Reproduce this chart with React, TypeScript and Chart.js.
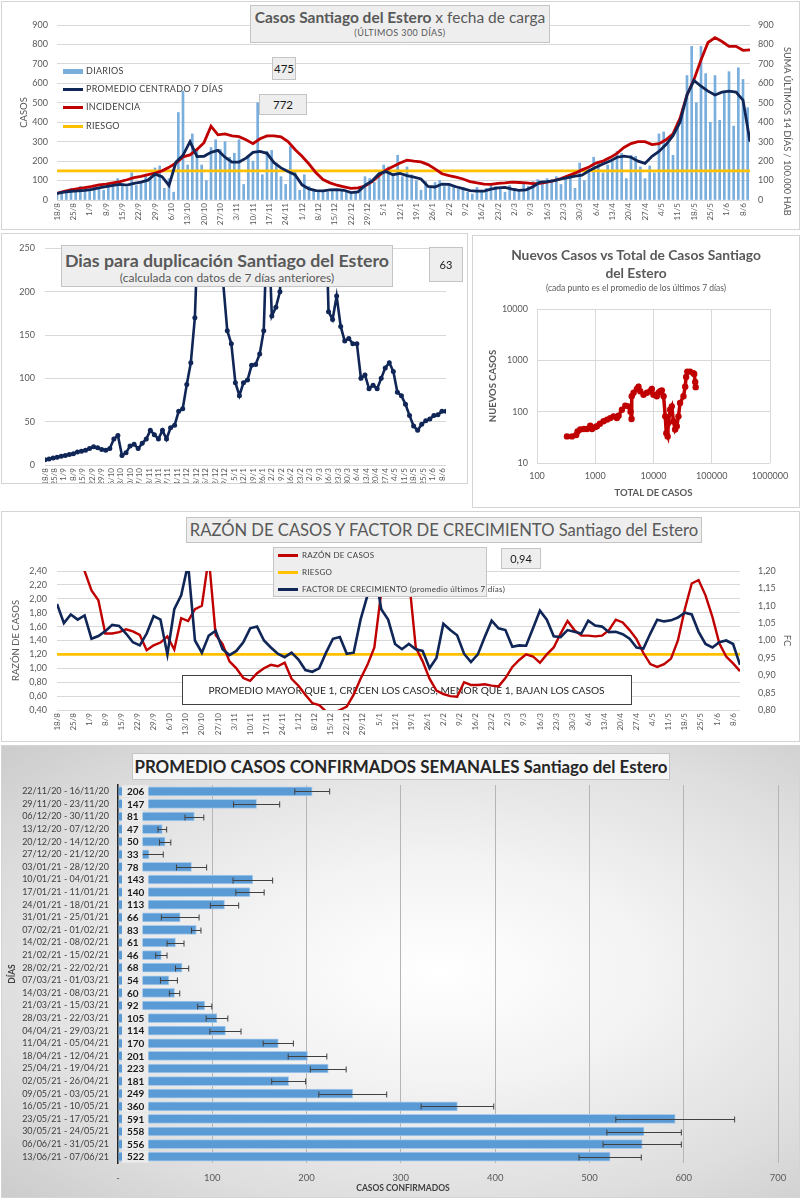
import React, { useEffect, useRef } from 'react';
import { Chart, registerables } from 'chart.js';

Chart.register(...registerables);

const FONT = 'Lato, "Open Sans", "DejaVu Sans", sans-serif';
const NAVY = '#0f2657';
const RED = '#c00000';
const ORANGE = '#ffc000';
const BAR_BLUE = '#7aaedd';
const GRID = '#d9d9d9';
const TICK = '#595959';

// ---------------- DATA ----------------
const weekLabels = ['18/8', '25/8', '1/9', '8/9', '15/9', '22/9', '29/9', '6/10', '13/10', '20/10', '27/10', '3/11', '10/11', '17/11', '24/11', '1/12', '8/12', '15/12', '22/12', '29/12', '5/1', '12/1', '19/1', '26/1', '2/2', '9/2', '16/2', '23/2', '2/3', '9/3', '16/3', '23/3', '30/3', '6/4', '13/4', '20/4', '27/4', '4/5', '11/5', '18/5', '25/5', '1/6', '8/6'];
const DAYS_PER_WEEK = 7;
const DAY_STEP_BARS = 2;
const DAY_STEP_LINES = 3;
const X_MAX_DAY = 297;

// daily cases (every 2nd day)
const diarios = [
  28, 45, 35, 60, 50, 70, 45, 55, 65, 60,
  50, 80, 70, 110, 85, 65, 140, 75, 90, 130,
  110, 165, 175, 60, 110, 40, 450, 560, 180, 340,
  260, 180, 100, 270, 310, 260, 300, 220, 240, 310,
  80, 220, 200, 500, 130, 250, 255, 190, 120, 80,
  275, 150, 50, 130, 70, 55, 45, 50, 40, 55,
  50, 45, 40, 30, 45, 60, 120, 110, 90, 130,
  180, 170, 125, 230, 120, 170, 130, 100, 50, 95,
  60, 90, 100, 70, 85, 75, 55, 65, 40, 30,
  65, 50, 60, 80, 70, 55, 40, 75, 60, 45,
  80, 70, 95, 105, 90, 110, 100, 120, 80, 115,
  130, 60, 190, 100, 160, 220, 200, 140, 180, 210,
  250, 240, 110, 230, 225, 170, 110, 175, 140, 340,
  350, 300, 230, 400, 470, 640, 790, 500, 790, 650,
  400, 640, 410, 560, 660, 380, 680, 620, 475,
];
// 7-day centred average (every 3rd day)
const promedio = [
  34, 40, 45, 47, 50, 55, 62, 69, 75, 80,
  77, 85, 92, 102, 133, 120, 75, 195, 230, 300,
  223, 225, 245, 255, 220, 195, 195, 215, 245, 250,
  240, 192, 165, 146, 130, 78, 57, 48, 47, 52,
  53, 50, 38, 42, 75, 98, 135, 146, 130, 137,
  125, 118, 108, 70, 67, 82, 80, 68, 58, 48,
  46, 46, 56, 62, 65, 56, 50, 52, 68, 92,
  95, 100, 108, 115, 123, 128, 150, 168, 185, 200,
  220, 226, 220, 200, 188, 225, 250, 285, 330, 400,
  540, 615, 585, 560, 540, 555, 560, 555, 514, 300,
];
// 14-day incidence per 100.000 (every 3rd day)
const incidencia = [
  34, 45, 52, 58, 64, 70, 78, 82, 88, 94,
  104, 115, 122, 130, 138, 150, 168, 190, 222, 232,
  260, 295, 380, 335, 340, 330, 326, 310, 290, 315,
  330, 330, 325, 300, 260, 225, 185, 140, 105, 88,
  76, 68, 60, 62, 72, 95, 125, 155, 172, 190,
  205, 200, 196, 182, 160, 135, 125, 118, 108, 95,
  88, 82, 80, 85, 88, 92, 90, 88, 84, 85,
  92, 100, 110, 125, 138, 155, 170, 190, 200, 218,
  240, 270, 290, 300, 300, 285, 290, 310, 340, 420,
  540, 620, 720, 810, 835, 815, 790, 790, 770, 772,
];
const RIESGO_INCIDENCIA = 150;
const ULTIMO_DIARIO = '475';
const ULTIMA_INCIDENCIA = '772';

// doubling days (every 3rd day)
const duplicacion = [
  6, 7, 8, 9, 10, 11, 12, 13, 15, 16,
  17, 19, 21, 20, 18, 17, 19, 30, 34, 11,
  14, 22, 24, 19, 25, 30, 40, 35, 30, 40,
  30, 43, 46, 62, 65, 93, 118, 170, 300, 400,
  500, 600, 500, 350, 210, 155, 140, 95, 80, 95,
  98, 115, 116, 128, 155, 300, 172, 182, 200, 320,
  400, 500, 650, 800, 900, 1000, 900, 700, 500, 350,
  177, 168, 195, 160, 143, 146, 140, 140, 100, 104,
  88, 92, 88, 100, 112, 118, 108, 84, 80, 70,
  57, 45, 40, 47, 51, 53, 57, 58, 62, 62,
];
const ULTIMA_DUPLICACION = '63';

// new cases vs total cases (log-log)
const totalCasos = [327, 398, 471, 497, 553, 640, 721, 820, 880, 1000, 1067, 1200, 1389, 1600, 1807, 2064, 2353, 2517, 2870, 3283, 3720, 4040, 4200, 4230, 4550, 5180, 5540, 5920, 6750, 7700, 8780, 9350, 10000, 11400, 12200, 13000, 13900, 14900, 15900, 16600, 17500, 18000, 19300, 20600, 22000, 23500, 25100, 26800, 28600, 32700, 35000, 36300, 38000, 42500, 48400, 50000, 52000, 53000];
const nuevosCasos = [33, 33, 35, 41, 45, 46, 46, 53, 46, 50, 52, 58, 65, 70, 75, 81, 75, 83, 109, 131, 127, 100, 72, 200, 233, 276, 306, 250, 214, 233, 250, 276, 214, 200, 233, 250, 260, 200, 81, 38, 33, 60, 109, 127, 65, 45, 52, 81, 148, 200, 306, 476, 603, 603, 560, 540, 380, 300];
const logTicksX = [100, 1000, 10000, 100000, 1000000];
const logTicksY = [10, 100, 1000, 10000];

// case ratio and growth factor (every 3rd day)
const razonCasos = [
  3.2, 3.0, 2.8, 2.6, 2.4, 2.12, 1.98, 1.5, 1.5, 1.52,
  1.56, 1.53, 1.48, 1.26, 1.33, 1.37, 1.46, 1.27, 1.72, 1.68,
  1.85, 1.9, 2.6, 1.48, 1.35, 1.1, 1.0, 0.86, 0.82, 0.93,
  1.0, 1.05, 1.03, 1.08, 0.85, 0.75, 0.62, 0.5, 0.47, 0.38,
  0.35, 0.4, 0.45, 0.62, 0.85, 1.05, 1.3, 2.1, 2.8, 3.0,
  2.8, 2.3, 1.3, 1.1, 0.85, 0.68, 0.63, 0.6, 0.59, 0.8,
  0.76, 0.76, 0.77, 0.75, 0.74, 0.86, 1.02, 1.12, 1.2, 1.17,
  1.08, 1.2, 1.3, 1.5, 1.68, 1.55, 1.47, 1.47, 1.46, 1.47,
  1.55, 1.7, 1.66, 1.55, 1.42, 1.22, 1.06, 1.02, 1.06, 1.14,
  1.4, 1.85, 2.22, 2.27, 2.05, 1.74, 1.36, 1.17, 1.07, 0.96,
];
const factorCrecimiento = [
  1.105, 1.05, 1.075, 1.06, 1.072, 1.005, 1.013, 1.027, 1.045, 1.042,
  1.02, 0.995, 0.986, 1.02, 1.07, 1.06, 0.96, 1.09, 1.13, 1.22,
  1.0, 0.965, 1.014, 1.028, 0.975, 0.958, 0.97, 0.995, 1.035, 1.04,
  1.0, 0.98, 0.962, 0.952, 0.965, 0.945, 0.915, 0.91, 0.92, 0.965,
  1.005, 1.01, 0.962, 0.965, 1.06, 1.13, 1.21, 1.09, 1.06, 0.99,
  0.975, 0.99, 0.975, 0.97, 0.92, 0.95, 1.048, 1.03, 1.015, 0.962,
  0.938, 0.96, 1.01, 1.057, 1.035, 1.03, 0.982, 0.986, 0.985, 1.035,
  1.086, 1.06, 1.012, 1.01, 1.03, 1.025, 1.02, 1.057, 1.043, 1.04,
  1.024, 1.025, 1.018, 1.005, 0.98, 0.977, 1.02, 1.06, 1.055, 1.058,
  1.066, 1.08, 1.075, 1.025, 0.99, 0.98, 0.995, 1.0, 0.99, 0.93,
];
const RIESGO_RAZON = 1.2;
const ULTIMO_FC = '0,94';
const NOTA_RAZON = 'PROMEDIO MAYOR QUE 1, CRECEN LOS CASOS, MENOR QUE 1, BAJAN LOS CASOS';

// weekly averages
const semanas = ['22/11/20 - 16/11/20', '29/11/20 - 23/11/20', '06/12/20 - 30/11/20', '13/12/20 - 07/12/20', '20/12/20 - 14/12/20', '27/12/20 - 21/12/20', '03/01/21 - 28/12/20', '10/01/21 - 04/01/21', '17/01/21 - 11/01/21', '24/01/21 - 18/01/21', '31/01/21 - 25/01/21', '07/02/21 - 01/02/21', '14/02/21 - 08/02/21', '21/02/21 - 15/02/21', '28/02/21 - 22/02/21', '07/03/21 - 01/03/21', '14/03/21 - 08/03/21', '21/03/21 - 15/03/21', '28/03/21 - 22/03/21', '04/04/21 - 29/03/21', '11/04/21 - 05/04/21', '18/04/21 - 12/04/21', '25/04/21 - 19/04/21', '02/05/21 - 26/04/21', '09/05/21 - 03/05/21', '16/05/21 - 10/05/21', '23/05/21 - 17/05/21', '30/05/21 - 24/05/21', '06/06/21 - 31/05/21', '13/06/21 - 07/06/21'];
const promedioSemanal = [206, 147, 81, 47, 50, 33, 78, 143, 140, 113, 66, 83, 61, 46, 68, 54, 60, 92, 105, 114, 170, 201, 223, 181, 249, 360, 591, 558, 556, 522];
const errorSemanal = [18.5, 24.5, 10, 4.6, 6, 15, 16, 21, 15, 15, 20, 5, 9, 6, 7, 9, 5.5, 7.5, 11.5, 16.5, 16, 20.5, 19, 18, 36, 38.5, 63, 39.5, 41.5, 33];

// ---------------- HELPERS ----------------
const toPoints = (vals: number[], step: number) => vals.map((v, i) => ({ x: i * step, y: v }));
const comma = (d: number) => (v: any) => Number(v).toFixed(d).replace('.', ',');
const fixW = (w: number) => (s: any) => { s.width = w; };
const fixH = (h: number) => (s: any) => { s.height = h; };
const font = (size: number, weight: any = 'normal') => ({ family: FONT, size, weight });
const baseOpts = { responsive: false, animation: false, events: [] as any[], plugins: { legend: { display: false }, tooltip: { enabled: false } } };

const dayAxis = (h: number) => ({
  type: 'linear', min: 0, max: X_MAX_DAY, offset: false,
  grid: { display: false, drawTicks: false, offset: false },
  border: { display: false },
  ticks: {
    stepSize: DAYS_PER_WEEK, autoSkip: false, includeBounds: false, maxRotation: 90, minRotation: 90, padding: 3,
    color: TICK, font: font(8),
    callback: (v: any) => { const i = Number(v) / DAYS_PER_WEEK; return Number.isInteger(i) ? (weekLabels[i] ?? '') : ''; },
  },
  afterFit: fixH(h),
});

function ChartCanvas({ left, top, width, height, make }: any) {
  const ref = useRef<HTMLCanvasElement | null>(null);
  useEffect(() => {
    if (!ref.current) return;
    const chart = new Chart(ref.current, make());
    return () => chart.destroy();
  }, []);
  return <canvas ref={ref} width={width} height={height} style={{ position: 'absolute', left, top, width, height, display: 'block' }} />;
}

// ---------------- CHART CONFIGS ----------------
const makeTop = (): any => ({
  type: 'line',
  data: {
    datasets: [
      { type: 'line', data: toPoints(promedio, DAY_STEP_LINES), borderColor: NAVY, borderWidth: 2.8, pointRadius: 0, yAxisID: 'y', order: 1 },
      { type: 'line', data: toPoints(incidencia, DAY_STEP_LINES), borderColor: RED, borderWidth: 2.8, pointRadius: 0, yAxisID: 'y1', order: 2 },
      { type: 'line', data: [{ x: 0, y: RIESGO_INCIDENCIA }, { x: X_MAX_DAY, y: RIESGO_INCIDENCIA }], borderColor: ORANGE, borderWidth: 2.8, pointRadius: 0, yAxisID: 'y1', order: 3 },
      { type: 'bar', data: toPoints(diarios, DAY_STEP_BARS), backgroundColor: BAR_BLUE, barThickness: 2, yAxisID: 'y', order: 4 },
    ],
  },
  options: {
    ...baseOpts,
    layout: { padding: { top: 25, left: 0, right: 0, bottom: 0 } },
    scales: {
      x: dayAxis(30),
      y: {
        position: 'left', min: 0, max: 900,
        ticks: { stepSize: 100, padding: 9, color: TICK, font: font(9) },
        grid: { color: GRID, drawTicks: false }, border: { display: false },
        title: { display: true, text: 'CASOS', color: TICK, font: font(9.5), padding: { top: 18, bottom: 0 } },
        afterFit: fixW(57),
      },
      y1: {
        position: 'right', min: 0, max: 900,
        ticks: { stepSize: 100, padding: 8, color: TICK, font: font(9) },
        grid: { display: false, drawTicks: false }, border: { display: false },
        afterFit: fixW(53),
      },
    },
  },
});

const makeDup = (): any => ({
  type: 'line',
  data: {
    datasets: [{ data: toPoints(duplicacion, DAY_STEP_LINES), borderColor: NAVY, backgroundColor: NAVY, borderWidth: 2.6, pointRadius: 2.5, pointBorderWidth: 0, pointBackgroundColor: NAVY }],
  },
  options: {
    ...baseOpts,
    layout: { padding: { top: 13, left: 0, right: 22, bottom: 0 } },
    scales: {
      x: dayAxis(58),
      y: {
        min: 0, max: 250,
        ticks: { stepSize: 50, padding: 10, color: TICK, font: font(9) },
        grid: { color: GRID, drawTicks: false }, border: { display: false },
        afterFit: fixW(45),
      },
    },
  },
});

const makeScatter = (): any => ({
  type: 'scatter',
  data: {
    datasets: [{ data: totalCasos.map((t, i) => ({ x: t, y: nuevosCasos[i] })), showLine: true, borderColor: RED, backgroundColor: RED, borderWidth: 3.5, pointRadius: 3.2, pointBorderWidth: 0 }],
  },
  options: {
    ...baseOpts,
    layout: { padding: { top: 74, left: 0, right: 30, bottom: 0 } },
    scales: {
      x: {
        type: 'logarithmic', min: 100, max: 1000000,
        afterBuildTicks: (s: any) => { s.ticks = logTicksX.map((v) => ({ value: v })); },
        ticks: { callback: (v: any) => String(v), padding: 8, color: TICK, font: font(9), autoSkip: false, maxRotation: 0 },
        grid: { color: GRID, drawTicks: false }, border: { display: false },
        title: { display: true, text: 'TOTAL DE CASOS', color: TICK, font: font(9.5, 'bold'), padding: { top: 0, bottom: 9.5 } },
        afterFit: fixH(45),
      },
      y: {
        type: 'logarithmic', min: 10, max: 10000,
        afterBuildTicks: (s: any) => { s.ticks = logTicksY.map((v) => ({ value: v })); },
        ticks: { callback: (v: any) => String(v), padding: 9, color: TICK, font: font(9), autoSkip: false },
        grid: { color: GRID, drawTicks: false }, border: { display: false },
        title: { display: true, text: 'NUEVOS CASOS', color: TICK, font: font(9.5, 'bold'), padding: { top: 15.5, bottom: 0 } },
        afterFit: fixW(65),
      },
    },
  },
});

const infoBox = {
  id: 'infoBox',
  beforeDatasetsDraw(chart: any) {
    const ctx = chart.ctx;
    ctx.save();
    ctx.fillStyle = '#ffffff';
    ctx.fillRect(182, 163, 449, 29);
    ctx.strokeStyle = '#404040';
    ctx.lineWidth = 1;
    ctx.strokeRect(182.5, 163.5, 449, 29);
    ctx.fillStyle = '#262626';
    ctx.font = `10.2px ${FONT}`;
    ctx.textAlign = 'center';
    ctx.textBaseline = 'middle';
    ctx.fillText(NOTA_RAZON, 406.5, 178.5);
    ctx.restore();
  },
};

const makeRazon = (): any => ({
  type: 'line',
  data: {
    datasets: [
      { data: toPoints(factorCrecimiento, DAY_STEP_LINES), borderColor: NAVY, borderWidth: 2.6, pointRadius: 0, yAxisID: 'y1', order: 1 },
      { data: toPoints(razonCasos, DAY_STEP_LINES), borderColor: RED, borderWidth: 2.4, pointRadius: 0, yAxisID: 'y', order: 2 },
      { data: [{ x: 0, y: RIESGO_RAZON }, { x: X_MAX_DAY, y: RIESGO_RAZON }], borderColor: ORANGE, borderWidth: 2.8, pointRadius: 0, yAxisID: 'y', order: 3 },
    ],
  },
  options: {
    ...baseOpts,
    layout: { padding: { top: 59, left: 0, right: 0, bottom: 0 } },
    scales: {
      x: dayAxis(30),
      y: {
        position: 'left', min: 0.4, max: 2.4,
        ticks: { stepSize: 0.2, padding: 10, color: TICK, font: font(9), callback: comma(2) },
        grid: { color: GRID, drawTicks: false }, border: { display: false },
        title: { display: true, text: 'RAZÓN DE CASOS', color: TICK, font: font(9.5), padding: { top: 10, bottom: 0 } },
        afterFit: fixW(57),
      },
      y1: {
        position: 'right', min: 0.8, max: 1.2,
        ticks: { stepSize: 0.05, padding: 18, color: TICK, font: font(9), callback: comma(2) },
        grid: { display: false, drawTicks: false }, border: { display: false },
        title: { display: true, text: 'FC', color: TICK, font: font(9.5), padding: { top: 10, bottom: 0 } },
        afterFit: fixW(63),
      },
    },
  },
  plugins: [infoBox],
});

const barDecor = {
  id: 'barDecor',
  afterDatasetsDraw(chart: any) {
    const ctx = chart.ctx;
    const xs = chart.scales.x;
    const ds = chart.data.datasets[0];
    const meta = chart.getDatasetMeta(0);
    ctx.save();
    ctx.strokeStyle = '#404040';
    ctx.lineWidth = 1;
    meta.data.forEach((bar: any, i: number) => {
      const v = ds.data[i];
      const e = ds.errors[i];
      const x1 = xs.getPixelForValue(v - e);
      const x2 = xs.getPixelForValue(v + e);
      const y = Math.round(bar.y) + 0.5;
      ctx.beginPath();
      ctx.moveTo(x1, y); ctx.lineTo(x2, y);
      ctx.moveTo(x1, y - 3); ctx.lineTo(x1, y + 3);
      ctx.moveTo(x2, y - 3); ctx.lineTo(x2, y + 3);
      ctx.stroke();
    });
    ctx.font = `bold 10px ${FONT}`;
    ctx.textAlign = 'left';
    ctx.textBaseline = 'middle';
    const bx = xs.getPixelForValue(0) + 4;
    meta.data.forEach((bar: any, i: number) => {
      const txt = String(ds.data[i]);
      const w = ctx.measureText(txt).width;
      ctx.fillStyle = '#ebebeb';
      ctx.fillRect(bx, bar.y - 6, w + 9, 12);
      ctx.fillStyle = '#1a1a1a';
      ctx.fillText(txt, bx + 5, bar.y + 0.5);
    });
    ctx.restore();
  },
};

const makeBars = (): any => ({
  type: 'bar',
  data: {
    labels: semanas,
    datasets: [{ data: promedioSemanal, errors: errorSemanal, backgroundColor: '#5b9bd5', borderColor: '#a8cbeb', borderWidth: 1, barThickness: 9 }],
  },
  options: {
    ...baseOpts,
    indexAxis: 'y',
    layout: { padding: { top: 40, left: 0, right: 25, bottom: 0 } },
    scales: {
      x: {
        min: 0, max: 700,
        ticks: { stepSize: 100, padding: 9, color: TICK, font: font(9.5), callback: (v: any) => (Number(v) === 0 ? '-' : String(v)) },
        grid: { color: '#b5b5b5', drawTicks: false }, border: { display: false },
        afterFit: fixH(37),
      },
      y: {
        ticks: { autoSkip: false, padding: 9, color: '#404040', font: font(9) },
        grid: { display: false, drawTicks: false },
        border: { display: true, color: '#262626', width: 1.5 },
        title: { display: true, text: 'DÍAS', color: '#404040', font: font(8.5, 'bold'), padding: { top: 7, bottom: 0 } },
        afterFit: fixW(118),
      },
    },
  },
  plugins: [barDecor],
});

// ---------------- UI PIECES ----------------
const abs = (left: number, top: number, width: number, height: number, extra: any = {}) => ({
  position: 'absolute' as const, left, top, width, height, boxSizing: 'border-box' as const, ...extra,
});
const boxBg = { background: '#eeeeee', border: '1px solid #c4c4c4' };

function ValueBox({ x, y, w, h, text, size = 12 }: any) {
  return (
    <div style={abs(x, y, w, h, { ...boxBg, display: 'flex', alignItems: 'center', justifyContent: 'center', fontSize: size, color: '#1a1a1a' })}>{text}</div>
  );
}

function LegendRow({ x, y, color, bar, text, size = 9, textX }: any) {
  return (
    <>
      <div style={abs(x, y - (bar ? 2.5 : 1.5), 20, bar ? 5 : 3, { background: color })} />
      <div style={{ position: 'absolute', left: textX ?? x + 23, top: y - 7, height: 14, lineHeight: '14px', fontSize: size, color: '#404040', whiteSpace: 'nowrap', letterSpacing: 0.3 }}>{text}</div>
    </>
  );
}

export default function App() {
  useEffect(() => {
    document.body.style.margin = '0';
  }, []);
  const border = '1px solid #d4d4d4';
  return (
    <div style={{ position: 'absolute', left: 0, top: 0, width: 803, height: 1200, background: '#ffffff', overflow: 'hidden', fontFamily: FONT }}>
      {/* panel 5 background */}
      <div style={abs(1, 745, 799, 453, { background: 'radial-gradient(ellipse 75% 70% at 55% 50%, #ffffff 0%, #f3f3f3 35%, #dedede 75%, #cdcdcd 100%)' })} />

      {/* charts */}
      <ChartCanvas left={0} top={0} width={803} height={230} make={makeTop} />
      <div style={abs(0, 233, 468, 251, { overflow: 'hidden' })}>
        <ChartCanvas left={0} top={0} width={468} height={290} make={makeDup} />
      </div>
      <ChartCanvas left={472} top={235} width={328} height={273} make={makeScatter} />
      <ChartCanvas left={0} top={512} width={803} height={228} make={makeRazon} />
      <ChartCanvas left={0} top={745} width={803} height={455} make={makeBars} />

      {/* panel borders */}
      <div style={abs(1, 1, 799, 229, { border, pointerEvents: 'none' })} />
      <div style={abs(1, 233, 467, 251, { border, pointerEvents: 'none' })} />
      <div style={abs(472, 235, 328, 273, { border, pointerEvents: 'none' })} />
      <div style={abs(1, 511, 799, 231, { border, pointerEvents: 'none' })} />
      <div style={abs(1, 745, 799, 453, { border, pointerEvents: 'none' })} />

      {/* panel 1 texts */}
      <div style={abs(250, 5, 300, 38, { ...boxBg, textAlign: 'center', color: '#595959' })}>
        <div style={{ fontSize: 15.5, lineHeight: '20px', marginTop: 1, whiteSpace: 'nowrap' }}><b>Casos Santiago del Estero</b> x fecha de carga</div>
        <div style={{ fontSize: 9, lineHeight: '12px', letterSpacing: 0.4 }}>(ÚLTIMOS 300 DÍAS)</div>
      </div>
      <div style={{ position: 'absolute', left: 780, top: 47, width: 14, writingMode: 'vertical-rl', fontSize: 9.2, lineHeight: '14px', color: TICK, whiteSpace: 'nowrap' }}>SUMA  ÚLTIMOS 14 DÍAS / 100.000 HAB</div>
      <ValueBox x={272} y={57} w={24} h={23} text={ULTIMO_DIARIO} size={11.5} />
      <ValueBox x={259} y={94} w={48} h={21} text={ULTIMA_INCIDENCIA} size={11.5} />
      <LegendRow x={63} y={71} color={BAR_BLUE} bar text="DIARIOS" />
      <LegendRow x={63} y={89} color={NAVY} text="PROMEDIO CENTRADO 7 DÍAS" />
      <LegendRow x={63} y={107} color={RED} text="INCIDENCIA" />
      <LegendRow x={63} y={126} color={ORANGE} text="RIESGO" />

      {/* panel 2 texts */}
      <div style={abs(61, 245, 332, 42, { ...boxBg, textAlign: 'center', color: '#595959' })}>
        <div style={{ fontSize: 17.8, fontWeight: 'bold', lineHeight: '22px', marginTop: 3, whiteSpace: 'nowrap' }}>Dias para duplicación Santiago del Estero</div>
        <div style={{ fontSize: 12, lineHeight: '14px', whiteSpace: 'nowrap' }}>(calculada con datos de 7 días anteriores)</div>
      </div>
      <ValueBox x={429} y={247} w={34} h={35} text={ULTIMA_DUPLICACION} size={11} />

      {/* panel 3 texts */}
      <div style={abs(472, 246, 328, 52, { textAlign: 'center', color: '#595959' })}>
        <div style={{ fontSize: 13.8, fontWeight: 'bold', lineHeight: '18px', whiteSpace: 'nowrap' }}>Nuevos Casos vs Total de Casos Santiago</div>
        <div style={{ fontSize: 13.8, fontWeight: 'bold', lineHeight: '18px' }}>del Estero</div>
        <div style={{ fontSize: 8.5, lineHeight: '12px', whiteSpace: 'nowrap' }}>(cada punto es el promedio de los últimos 7 días)</div>
      </div>

      {/* panel 4 texts */}
      <div style={abs(186, 517, 516, 26, { ...boxBg, textAlign: 'center', color: '#595959', fontSize: 16.6, lineHeight: '24px', whiteSpace: 'nowrap' })}>
        RAZÓN DE CASOS Y FACTOR DE CRECIMIENTO Santiago del Estero
      </div>
      <div style={abs(273, 547, 214, 50, { ...boxBg })} />
      <LegendRow x={278} y={555} color={RED} text="RAZÓN DE CASOS" size={8} textX={302} />
      <LegendRow x={278} y={572} color={ORANGE} text="RIESGO" size={8} textX={302} />
      <LegendRow x={278} y={589} color={NAVY} text="FACTOR DE CRECIMIENTO (promedio últimos 7 días)" size={8} textX={302} />
      <ValueBox x={501} y={548} w={40} h={21} text={ULTIMO_FC} size={11} />

      {/* panel 5 texts */}
      <div style={abs(132, 753, 538, 27, { background: '#f7f7f7', border: '1px solid #c4c4c4', textAlign: 'center', color: '#262626', fontSize: 16.9, fontWeight: 'bold', lineHeight: '25px', whiteSpace: 'nowrap' })}>
        PROMEDIO CASOS CONFIRMADOS SEMANALES Santiago del Estero
      </div>
      <div style={{ position: 'absolute', left: 303, width: 200, top: 1182, textAlign: 'center', fontSize: 8.5, fontWeight: 'bold', color: '#404040', lineHeight: '12px' }}>CASOS CONFIRMADOS</div>
    </div>
  );
}
